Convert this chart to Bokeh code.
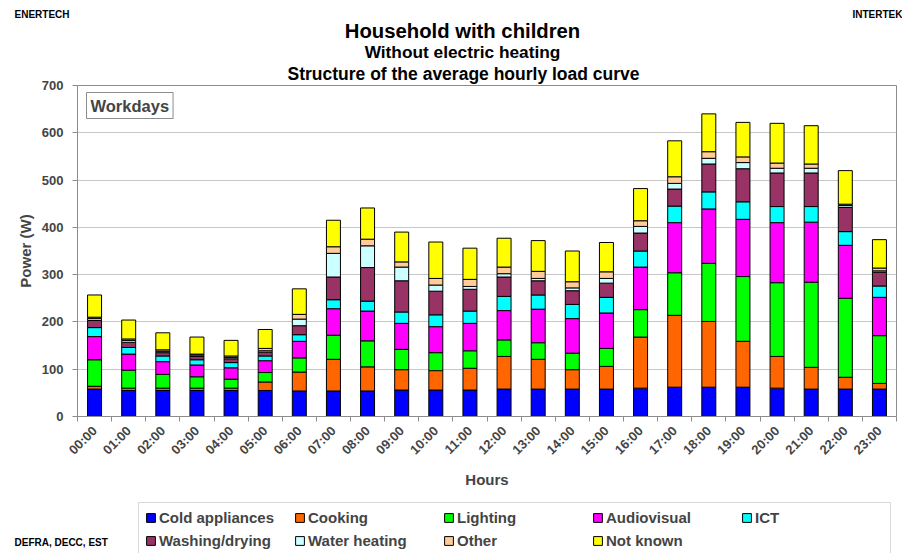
import math

import numpy as np
from bokeh.embed import file_html
from bokeh.layouts import column
from bokeh.models import (ColumnDataSource, FixedTicker, Label, Legend, LegendItem,
                          Range1d, Title)
from bokeh.plotting import figure
from bokeh.resources import INLINE

# ---- data: average hourly load (W), workdays ----
hours = ["00:00", "01:00", "02:00", "03:00", "04:00", "05:00", "06:00", "07:00",
         "08:00", "09:00", "10:00", "11:00", "12:00", "13:00", "14:00", "15:00",
         "16:00", "17:00", "18:00", "19:00", "20:00", "21:00", "22:00", "23:00"]

cold_appliances = [58, 55, 55, 55, 55, 55, 54, 54, 54, 56, 56, 56,
                   58, 58, 58, 58, 60, 62, 62, 62, 60, 58, 58, 58]
cooking = [6, 5, 5, 5, 5, 18, 40, 67, 51, 43, 41, 46,
           69, 63, 41, 48, 108, 152, 139, 97, 67, 46, 25, 12]
lighting = [56, 38, 29, 24, 19, 20, 30, 51, 55, 43, 38, 37,
            35, 35, 35, 38, 58, 90, 123, 137, 156, 180, 167, 101]
audiovisual = [49, 34, 27, 25, 24, 25, 35, 56, 63, 55, 55, 58,
               62, 71, 73, 75, 90, 106, 115, 121, 127, 127, 112, 81]
ict = [19, 14, 12, 11, 11, 10, 14, 19, 21, 24, 25, 26,
       30, 30, 30, 33, 34, 35, 36, 37, 34, 33, 29, 24]
washing_drying = [15, 11, 7, 7, 8, 8, 19, 48, 71, 66, 50, 46,
                  41, 30, 29, 30, 38, 36, 59, 70, 71, 71, 51, 29]
water_heating = [4, 4, 3, 3, 3, 3, 14, 50, 46, 29, 13, 6,
                 7, 5, 6, 10, 14, 12, 12, 13, 10, 10, 4, 3]
other = [3, 3, 3, 2, 3, 5, 10, 14, 14, 11, 14, 15,
         14, 15, 13, 14, 12, 14, 14, 12, 11, 9, 3, 6]
not_known = [47, 40, 36, 36, 33, 40, 54, 56, 66, 63, 77, 66,
             61, 65, 65, 62, 68, 76, 80, 73, 84, 81, 71, 60]

series_names = ["Cold appliances", "Cooking", "Lighting", "Audiovisual", "ICT",
                "Washing/drying", "Water heating", "Other", "Not known"]
series_values = [cold_appliances, cooking, lighting, audiovisual, ict,
                 washing_drying, water_heating, other, not_known]
series_colors = ["#0000FF", "#FF6600", "#00FF00", "#FF00FF", "#00FFFF",
                 "#993366", "#CCFFFF", "#FFCC99", "#FFFF00"]

y_ticks = [0, 100, 200, 300, 400, 500, 600, 700]

FONT = "Liberation Sans"
W = 902
HEAD_H, MAIN_H, FOOT_H = 62, 433, 58
FRAME_L = 77


def panel_fig(height):
    """Axis-less strip whose frame fills the whole canvas."""
    f = figure(width=W, height=height, x_range=Range1d(0, W), y_range=Range1d(0, height),
               x_axis_type=None, y_axis_type=None, output_backend="svg",
               toolbar_location=None, min_border=0)
    f.outline_line_color = None
    f.frame_align = False
    return f


def text_at(fig, text, x, y, size, align="left"):
    # x, y measured from the strip's top-left corner
    fig.add_layout(Label(x=x, y=fig.height - y, x_units="screen", y_units="screen",
                         text=text, text_font=FONT, text_font_style="bold",
                         text_font_size=size, text_align=align,
                         text_baseline="middle", text_color="black"))


# ---- header: source credits and titles ----
head = panel_fig(HEAD_H)
text_at(head, "ENERTECH", 14, 14, "10px")
text_at(head, "INTERTEK", 852, 14, "10px")
text_at(head, "Household with children", 462, 30, "20.3px", align="center")
text_at(head, "Without electric heating", 462, 51, "17.3px", align="center")

# ---- main chart ----
keys = ["s%d" % i for i in range(len(series_names))]
data = {"x": [i + 0.5 for i in range(len(hours))]}
for k, vals in zip(keys, series_values):
    data[k] = vals
source = ColumnDataSource(data)

p = figure(width=W, height=MAIN_H, x_range=Range1d(0, len(hours)), y_range=Range1d(0, 700),
           output_backend="svg", toolbar_location=None,
           min_border_left=FRAME_L, min_border_right=6, min_border_top=23, min_border_bottom=79)
p.frame_align = False

p.vbar_stack(keys, x="x", width=0.41, source=source, color=series_colors,
             line_color="black", line_width=1)

p.add_layout(Title(text="Structure of the average hourly load curve", align="left",
                   offset=210, standoff=0, vertical_align="top", text_font=FONT,
                   text_font_style="bold", text_font_size="17.5px",
                   text_color="black"), "above")

p.outline_line_color = "#8c8c8c"
p.xgrid.grid_line_color = None
p.ygrid.grid_line_color = "#c8c8c8"

p.yaxis.ticker = FixedTicker(ticks=y_ticks)
p.yaxis.axis_label = "Power (W)"
p.yaxis.axis_label_text_font = FONT
p.yaxis.axis_label_text_font_style = "bold"
p.yaxis.axis_label_text_font_size = "15px"
p.yaxis.axis_label_standoff = 5
p.yaxis.major_label_text_font = FONT
p.yaxis.major_label_text_font_style = "bold"
p.yaxis.major_label_text_font_size = "13px"
p.yaxis.major_label_standoff = 9
p.yaxis.axis_line_color = "#8c8c8c"
p.yaxis.major_tick_line_color = "#8c8c8c"
p.yaxis.major_tick_out = 5
p.yaxis.major_tick_in = 0
p.yaxis.minor_tick_line_color = None

centers = [i + 0.5 for i in range(len(hours))]
p.xaxis.ticker = FixedTicker(ticks=centers, minor_ticks=list(range(len(hours) + 1)))
p.xaxis.major_label_overrides = {c: h for c, h in zip(centers, hours)}
p.xaxis.major_label_orientation = math.pi / 4
p.xaxis.major_label_text_font = FONT
p.xaxis.major_label_text_font_style = "bold"
p.xaxis.major_label_text_font_size = "13px"
p.xaxis.major_label_standoff = 7
p.xaxis.major_tick_line_color = None
p.xaxis.major_tick_out = 5
p.xaxis.minor_tick_line_color = "#8c8c8c"
p.xaxis.minor_tick_out = 5
p.xaxis.minor_tick_in = 0
p.xaxis.axis_line_color = "#8c8c8c"
p.xaxis.axis_label = "Hours"
p.xaxis.axis_label_text_font = FONT
p.xaxis.axis_label_text_font_style = "bold"
p.xaxis.axis_label_text_font_size = "15px"
p.xaxis.axis_label_standoff = 5

p.add_layout(Label(x=86 - FRAME_L, y=331 - (92 - 85), x_units="screen", y_units="screen",
                   text="Workdays", anchor="top_left", text_font=FONT,
                   text_font_style="bold", text_font_size="16.5px", padding=4,
                   border_line_color="#8c8c8c", border_line_width=1,
                   background_fill_color="white"))

# ---- footer: series key and data credit ----
foot = panel_fig(FOOT_H)
# key swatches: renderers carrying a single undrawn (NaN) row
swatches = [foot.vbar(x=np.array([np.nan]), top=np.array([np.nan]), width=1,
                      fill_color=c, line_color="black")
            for c in series_colors]
legend = Legend(items=[LegendItem(label=n, renderers=[r]) for n, r in zip(series_names, swatches)],
                orientation="horizontal", ncols=5, location=(138, -3),
                label_text_font=FONT, label_text_font_style="bold",
                label_text_font_size="15px",
                glyph_width=11, glyph_height=11, label_standoff=3,
                label_width=129, label_height=17, spacing=6, padding=6, margin=0,
                border_line_color="#b4b4b4", border_line_width=1,
                background_fill_color="white", background_fill_alpha=1)
legend.padding = 6
foot.add_layout(legend, "center")
text_at(foot, "DEFRA, DECC, EST", 14, 542 - 495, "10px")

layout = column(head, p, foot, spacing=0)

with open("out.html", "w") as f:
    f.write(file_html(layout, INLINE))
